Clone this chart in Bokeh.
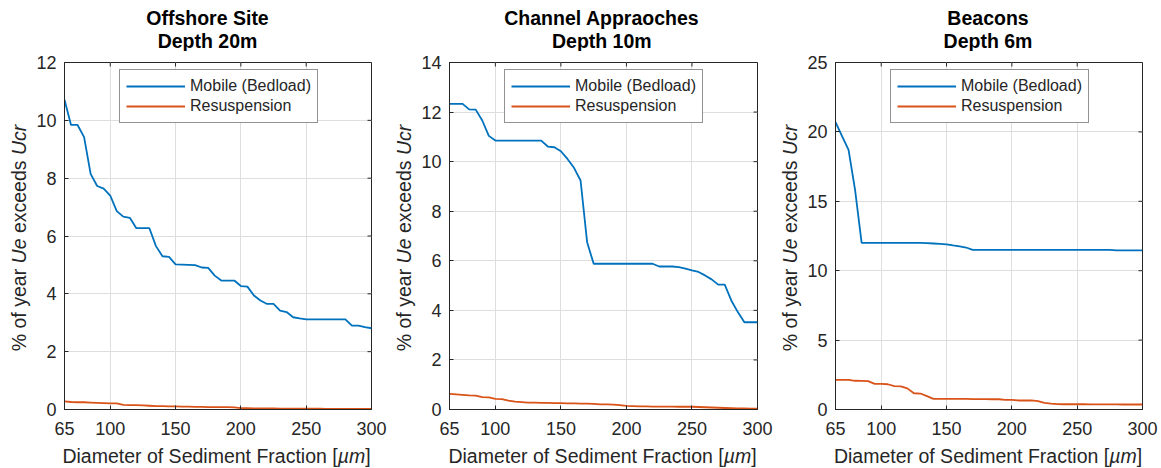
import math

from bokeh.core.properties import value
from bokeh.embed import file_html
from bokeh.layouts import column, row
from bokeh.models import FixedTicker, Legend, LegendItem, Range1d
from bokeh.plotting import figure
from bokeh.resources import INLINE

# ---------------------------------------------------------------- data ----
diameter_um = list(range(65, 305, 5))

offshore_mobile = [
    10.71, 9.84, 9.84, 9.42, 8.15, 7.73, 7.64, 7.40, 6.86, 6.67,
    6.63, 6.27, 6.27, 6.27, 5.65, 5.30, 5.28, 5.02, 5.01, 5.00,
    4.99, 4.91, 4.90, 4.63, 4.46, 4.46, 4.46, 4.27, 4.25, 3.94,
    3.77, 3.65, 3.65, 3.42, 3.37, 3.19, 3.15, 3.12, 3.12, 3.12,
    3.12, 3.12, 3.12, 3.12, 2.90, 2.90, 2.85, 2.81,
]
offshore_resusp = [
    0.28, 0.26, 0.25, 0.25, 0.24, 0.23, 0.22, 0.21, 0.21, 0.16,
    0.15, 0.15, 0.14, 0.13, 0.12, 0.12, 0.11, 0.11, 0.10, 0.10,
    0.09, 0.09, 0.08, 0.08, 0.08, 0.08, 0.07, 0.05, 0.05, 0.04,
    0.04, 0.04, 0.04, 0.03, 0.03, 0.03, 0.03, 0.03, 0.03, 0.03,
    0.02, 0.02, 0.02, 0.02, 0.02, 0.02, 0.02, 0.02,
]
channel_mobile = [
    12.33, 12.33, 12.33, 12.11, 12.10, 11.66, 11.04, 10.85, 10.85, 10.85,
    10.85, 10.85, 10.85, 10.85, 10.85, 10.61, 10.58, 10.42, 10.11, 9.75,
    9.24, 6.75, 5.88, 5.88, 5.88, 5.88, 5.88, 5.88, 5.88, 5.88,
    5.88, 5.88, 5.77, 5.77, 5.77, 5.74, 5.68, 5.61, 5.55, 5.41,
    5.25, 5.04, 5.04, 4.40, 3.93, 3.52, 3.52, 3.52,
]
channel_resusp = [
    0.63, 0.61, 0.59, 0.57, 0.56, 0.50, 0.49, 0.43, 0.42, 0.36,
    0.32, 0.30, 0.28, 0.28, 0.27, 0.27, 0.26, 0.26, 0.25, 0.25,
    0.24, 0.24, 0.23, 0.21, 0.21, 0.20, 0.18, 0.15, 0.14, 0.13,
    0.13, 0.12, 0.12, 0.12, 0.12, 0.11, 0.11, 0.11, 0.10, 0.09,
    0.08, 0.07, 0.06, 0.05, 0.04, 0.04, 0.03, 0.03,
]
beacons_mobile = [
    20.70, 19.70, 18.71, 15.80, 12.01, 12.01, 12.01, 12.01, 12.01, 12.01,
    12.01, 12.01, 12.01, 12.01, 11.99, 11.96, 11.93, 11.90, 11.82, 11.75,
    11.67, 11.50, 11.50, 11.50, 11.50, 11.50, 11.50, 11.50, 11.50, 11.50,
    11.50, 11.50, 11.50, 11.50, 11.50, 11.50, 11.50, 11.50, 11.50, 11.50,
    11.50, 11.50, 11.50, 11.47, 11.47, 11.47, 11.47, 11.47,
]
beacons_resusp = [
    2.14, 2.14, 2.14, 2.07, 2.06, 2.04, 1.85, 1.84, 1.82, 1.68,
    1.67, 1.52, 1.17, 1.15, 0.96, 0.77, 0.77, 0.77, 0.77, 0.76,
    0.76, 0.75, 0.75, 0.75, 0.74, 0.74, 0.70, 0.70, 0.65, 0.65,
    0.65, 0.60, 0.48, 0.42, 0.39, 0.38, 0.38, 0.38, 0.38, 0.37,
    0.37, 0.37, 0.37, 0.37, 0.36, 0.36, 0.36, 0.36,
]

x_ticks = [65, 100, 150, 200, 250, 300]
offshore_y_ticks = [0, 2, 4, 6, 8, 10, 12]
channel_y_ticks = [0, 2, 4, 6, 8, 10, 12, 14]
beacons_y_ticks = [0, 5, 10, 15, 20, 25]

site_titles = [
    ("Offshore Site", "Depth 20m"),
    ("Channel Appraoches", "Depth 10m"),
    ("Beacons", "Depth 6m"),
]
series_labels = ["Mobile (Bedload)", "Resuspension"]
y_label_parts = [("% of year", "normal"), ("Ue", "italic"),
                 ("exceeds", "normal"), ("Ucr", "italic")]
x_label_parts = [("Diameter of Sediment Fraction [", "normal"),
                 ("\u00b5m", "italic"), ("]", "normal")]

# --------------------------------------------------------------- style ----
FONT = "Liberation Sans"
AXIS_GREY = "#262626"
GRID_GREY = "#dedede"
BLUE = "#0072BD"
ORANGE = "#D95319"

FRAME_H = 347
TITLE_H = 51          # strip holding the two-line title
MAIN_TOP = 11         # room for the top y tick label
MAIN_BOTTOM = 36      # room for the x tick labels
XLAB_H = 23           # strip holding the x-axis label
MAIN_LEFT = 30        # room for the y tick labels
MAIN_H = MAIN_TOP + FRAME_H + MAIN_BOTTOM
LABEL_PX = 19.5
TITLE_PX = 19.5
# distance from the alphabetic baseline up to the middle of the text box
MID_SHIFT = 0.3465

# Arial / Liberation Sans advance widths (per 1000 em) for label layout
ADV = {' ': 278, '%': 889, 'o': 556, 'f': 278, 'y': 500, 'e': 556, 'a': 556,
       'r': 333, 'U': 722, 'x': 500, 'c': 500, 'd': 556, 's': 500, 'D': 722,
       'i': 222, 'm': 833, 't': 278, 'S': 667, 'n': 556, 'F': 611, '[': 278,
       ']': 278, '\u00b5': 576}


def text_w(s, size):
    return sum(ADV.get(ch, 556) for ch in s) * size / 1000.0


def text_strip(w, h, y_range=None):
    """A bare figure without axes, used to hold label text in pixel units."""
    f = figure(width=w, height=h, x_range=Range1d(0, w),
               y_range=y_range if y_range is not None else Range1d(0, h),
               x_axis_type=None, y_axis_type=None, min_border=0,
               title_location=None,
               output_backend="svg", toolbar_location=None,
               background_fill_color="white", border_fill_color="white",
               outline_line_color=None)
    f.grid.visible = False
    return f


def make_panel(titles, mobile, resusp, y_ticks, y_lab_w, frame_w, right,
               title_cx, title_b1, title_b2, xlab_cx):
    y_max = y_ticks[-1]
    panel_w = y_lab_w + MAIN_LEFT + frame_w + right

    # ---- main axes
    p = figure(frame_width=frame_w, frame_height=FRAME_H,
               min_border_left=MAIN_LEFT, min_border_right=right,
               min_border_top=MAIN_TOP, min_border_bottom=MAIN_BOTTOM,
               x_range=Range1d(65, 300), y_range=Range1d(0, y_max),
               title_location=None,
               output_backend="svg", toolbar_location=None,
               background_fill_color="white", border_fill_color="white",
               outline_line_color=AXIS_GREY, outline_line_width=1)

    p.xgrid.ticker = FixedTicker(ticks=x_ticks)
    p.ygrid.ticker = FixedTicker(ticks=y_ticks)
    for g in (p.xgrid[0], p.ygrid[0]):
        g.grid_line_color = GRID_GREY
        g.grid_line_width = 1

    p.xaxis.ticker = FixedTicker(ticks=x_ticks)
    p.yaxis.ticker = FixedTicker(ticks=y_ticks)
    for ax in (p.xaxis[0], p.yaxis[0]):
        ax.axis_line_color = AXIS_GREY
        ax.major_tick_line_color = AXIS_GREY
        ax.major_tick_in = 4
        ax.major_tick_out = 0
        ax.minor_tick_line_color = None
        ax.major_label_text_font = FONT
        ax.major_label_text_font_size = "18px"
        ax.major_label_text_color = AXIS_GREY
    p.xaxis.major_label_standoff = 12
    p.yaxis.major_label_standoff = 8

    # inward tick marks mirrored on the top and right edges of the box
    p.ray(x=x_ticks, y=[y_max] * len(x_ticks), length=4,
          length_units="screen", angle=-math.pi / 2,
          line_color=AXIS_GREY, line_width=1)
    p.ray(x=[300] * len(y_ticks), y=y_ticks, length=4,
          length_units="screen", angle=math.pi,
          line_color=AXIS_GREY, line_width=1)

    r_mob = p.line(diameter_um, mobile, line_color=BLUE, line_width=1.8)
    r_res = p.line(diameter_um, resusp, line_color=ORANGE, line_width=1.8)

    legend = Legend(items=[LegendItem(label=series_labels[0], renderers=[r_mob]),
                           LegendItem(label=series_labels[1], renderers=[r_res])],
                    location=(55, 286))
    legend.border_line_color = AXIS_GREY
    legend.border_line_width = 1
    legend.background_fill_color = "white"
    legend.background_fill_alpha = 1
    legend.label_text_font = FONT
    legend.label_text_font_size = "16px"
    legend.label_text_color = AXIS_GREY
    legend.glyph_width = 59
    legend.glyph_height = 20
    legend.label_height = 20
    legend.label_standoff = 5
    legend.spacing = 0
    legend.padding = 6
    legend.margin = 0
    p.add_layout(legend)

    # ---- two-line bold title (baselines given from the strip top)
    t = text_strip(panel_w, TITLE_H)
    mid = MID_SHIFT * TITLE_PX
    t.text(x=[title_cx, title_cx],
           y=[TITLE_H - (title_b1 - mid), TITLE_H - (title_b2 - mid)],
           text=list(titles), text_font=value(FONT),
           text_font_size=value(f"{TITLE_PX}px"), text_font_style="bold",
           text_color="black", text_align="center",
           text_baseline="middle")

    # ---- y-axis label, written upwards in normal / italic pieces.
    # The strip's frame lines up with the main frame, so its y units are
    # pixels measured up from the bottom of the main frame.
    yl = text_strip(y_lab_w, MAIN_H, y_range=Range1d(0, FRAME_H))
    space = text_w(" ", LABEL_PX)
    total = sum(text_w(s, LABEL_PX) for s, _ in y_label_parts) \
        + space * (len(y_label_parts) - 1)
    pos = FRAME_H - 175.5 - total / 2.0
    for s, style in y_label_parts:
        yl.text(x=[y_lab_w - 14.5], y=[pos], text=[s], angle=math.pi / 2,
                text_font=value(FONT), text_font_size=value(f"{LABEL_PX}px"),
                text_font_style=style, text_color=AXIS_GREY,
                text_align="left", text_baseline="middle")
        pos += text_w(s, LABEL_PX) + space

    # ---- x-axis label in normal / italic pieces
    xl = text_strip(panel_w, XLAB_H)
    total = sum(text_w(s, LABEL_PX) for s, _ in x_label_parts)
    pos = xlab_cx - total / 2.0
    y_mid = XLAB_H - (17.7 - MID_SHIFT * LABEL_PX)
    for s, style in x_label_parts:
        xl.text(x=[pos], y=[y_mid], text=[s],
                text_font=value(FONT), text_font_size=value(f"{LABEL_PX}px"),
                text_font_style=style, text_color=AXIS_GREY,
                text_align="left", text_baseline="middle")
        pos += text_w(s, LABEL_PX)

    return column(t, row(yl, p), xl)


panel1 = make_panel(site_titles[0], offshore_mobile, offshore_resusp,
                    offshore_y_ticks, 33, 307, 20, 207, 24, 46.8, 216)
panel2 = make_panel(site_titles[1], channel_mobile, channel_resusp,
                    channel_y_ticks, 27, 308, 20, 210.3, 23.8, 46.8, 211)
panel3 = make_panel(site_titles[2], beacons_mobile, beacons_resusp,
                    beacons_y_ticks, 27, 307, 22, 210.5, 23.8, 46.8, 210.5)

p = row(panel1, panel2, panel3)
open("out.html", "w").write(file_html(p, INLINE))
